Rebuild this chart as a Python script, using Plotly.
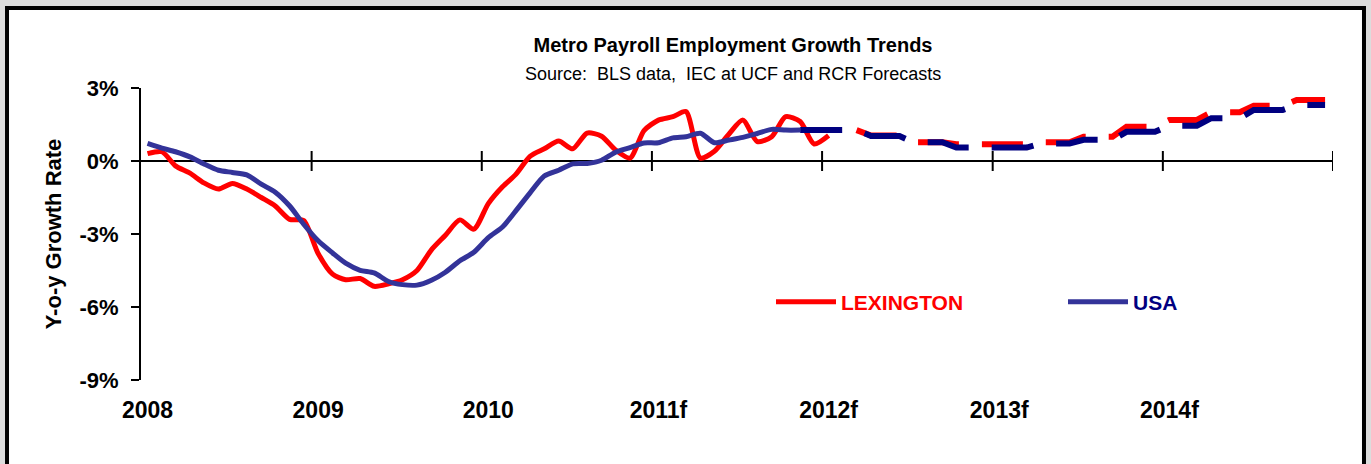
import pandas as pd
import plotly.graph_objects as go

# ---------------- data (percent, y-o-y growth) ----------------
# Monthly history, Jan 2008 onward
lex_hist = [0.30, 0.38, -0.20, -0.50, -0.90, -1.15, -0.92, -1.15, -1.50, -1.85, -2.40, -2.45,
            -3.80, -4.65, -4.88, -4.83, -5.15, -5.05, -4.88, -4.50, -3.65, -3.05, -2.42, -2.80,
            -1.75, -1.05, -0.55, 0.20, 0.50, 0.82, 0.50, 1.15, 1.02, 0.45, 0.12, 1.25,
            1.68, 1.82, 2.03, 0.12, 0.40, 1.10, 1.68, 0.80, 1.00, 1.82, 1.62, 0.70,
            1.05]
usa_hist = [0.72, 0.53, 0.38, 0.17, -0.12, -0.38, -0.47, -0.57, -0.95, -1.28, -1.85, -2.60,
            -3.28, -3.78, -4.20, -4.49, -4.60, -4.95, -5.08, -5.10, -4.90, -4.57, -4.10, -3.75,
            -3.15, -2.70, -2.05, -1.30, -0.62, -0.38, -0.12, -0.10, 0.03, 0.36, 0.55, 0.74,
            0.75, 0.95, 1.00, 1.14, 0.75, 0.86, 0.97, 1.13, 1.30, 1.27, 1.27]
# Monthly forecasts
lex_fcst = [1.27,
            1.05, 1.05, 1.05, 0.77, 0.77, 0.77, 0.69, 0.69, 0.69,
            0.69, 0.69, 0.69, 0.77, 0.77, 0.77, 1.00, 1.00, 1.00, 1.41, 1.41, 1.41,
            1.69, 1.69, 1.69, 2.00, 2.00, 2.00, 2.27, 2.27, 2.27, 2.51, 2.51, 2.51]
usa_fcst = [1.27, 1.27,
            1.27, 1.27, 1.27, 1.03, 1.03, 1.03, 0.77, 0.77, 0.77, 0.55, 0.55, 0.55,
            0.55, 0.55, 0.55, 0.72, 0.72, 0.72, 0.87, 0.87, 0.87, 1.20, 1.20, 1.20,
            1.45, 1.45, 1.45, 1.76, 1.76, 1.76, 2.10, 2.10, 2.10, 2.30, 2.30, 2.30]

hist_start = "2008-01-01"
lex_fcst_start = "2012-03-01"
usa_fcst_start = "2011-11-01"

years = [2008, 2009, 2010, 2011, 2012, 2013, 2014]
year_labels = ["2008", "2009", "2010", "2011f", "2012f", "2013f", "2014f"]
y_ticks = [-9, -6, -3, 0, 3]
y_labels = ["-9%", "-6%", "-3%", "0%", "3%"]

RED = "#FF0000"
BLUE = "#333399"
NAVY = "#000080"
FONT = "Arial, Liberation Sans, sans-serif"


def months(start, n):
    return pd.date_range(start, periods=n, freq="MS") + pd.Timedelta(days=14)


fig = go.Figure()
fig.add_trace(go.Scatter(
    x=months(hist_start, len(lex_hist)), y=lex_hist, mode="lines",
    name='<span style="color:#FF0000">LEXINGTON</span>',
    line=dict(color=RED, width=5, shape="spline", smoothing=0.7)))
fig.add_trace(go.Scatter(
    x=months(hist_start, len(usa_hist)), y=usa_hist, mode="lines",
    name='<span style="color:#000080">USA</span>',
    line=dict(color=BLUE, width=5, shape="spline", smoothing=0.7)))
fig.add_trace(go.Scatter(
    x=months(lex_fcst_start, len(lex_fcst)), y=lex_fcst, mode="lines",
    showlegend=False, line=dict(color=RED, width=6, dash="41px,23px")))
fig.add_trace(go.Scatter(
    x=months(usa_fcst_start, len(usa_fcst)), y=usa_fcst, mode="lines",
    showlegend=False, line=dict(color=NAVY, width=6, dash="42px,23px")))

shapes = [dict(type="rect", xref="paper", yref="paper",
               x0=-0.1124, x1=1.0260, y0=-0.36, y1=1.274,
               fillcolor="white", line=dict(color="black", width=4), layer="below")]
for yr in years[1:] + [2015]:
    shapes.append(dict(type="line", xref="x", yref="y",
                       x0=f"{yr}-01-01", x1=f"{yr}-01-01",
                       ysizemode="pixel", yanchor=0, y0=-10, y1=10,
                       line=dict(color="black", width=2)))

fig.update_layout(
    template="none",
    autosize=False,
    width=1371, height=464,
    margin=dict(l=141, r=38, t=88, b=84, pad=0),
    paper_bgcolor="#dcdcdc", plot_bgcolor="rgba(0,0,0,0)",
    font=dict(family=FONT, color="black"),
    title=dict(text="Metro Payroll Employment Growth Trends",
               x=733 / 1371, xanchor="center", y=1 - 45 / 464, yanchor="middle",
               automargin=False,
               font=dict(size=20, family=FONT, weight="bold", color="black")),
    annotations=[dict(text="Source:\u00a0 BLS data,\u00a0 IEC at UCF and RCR Forecasts",
                      xref="paper", yref="paper", x=(733 - 141) / 1192, y=(380 - 74) / 292,
                      xanchor="center", yanchor="middle", showarrow=False,
                      font=dict(size=18, family=FONT, color="black"))],
    showlegend=True,
    legend=dict(orientation="h", x=(771 - 141) / 1192, xanchor="left",
                y=(380 - 302) / 292, yanchor="middle",
                itemwidth=60, entrywidth=217,
                bgcolor="rgba(0,0,0,0)",
                font=dict(size=21, family=FONT, weight="bold")),
    shapes=shapes,
    xaxis=dict(type="date", range=["2008-01-01", "2015-01-01"], automargin=False,
               tickvals=[f"{yr}-01-15" for yr in years], ticktext=year_labels,
               ticks="", showline=False, showgrid=False, zeroline=False,
               ticklabelstandoff=14,
               tickfont=dict(size=23, family=FONT, weight="bold", color="black")),
    yaxis=dict(range=[-9, 3], tickvals=y_ticks, ticktext=y_labels, automargin=False,
               showline=True, linecolor="black", linewidth=2,
               ticks="outside", ticklen=8, tickwidth=2, tickcolor="black",
               showgrid=False, zeroline=True, zerolinecolor="black", zerolinewidth=2,
               ticklabelstandoff=8,
               tickfont=dict(size=22, family=FONT, weight="bold", color="black"),
               title=dict(text="Y-o-y Growth Rate", standoff=12,
                          font=dict(size=22, family=FONT, weight="bold", color="black"))),
)

fig.write_html(
    "out.html",
    config={"responsive": False, "displayModeBar": False},
    post_script="document.body.style.margin='0';document.body.style.overflow='hidden';",
)
